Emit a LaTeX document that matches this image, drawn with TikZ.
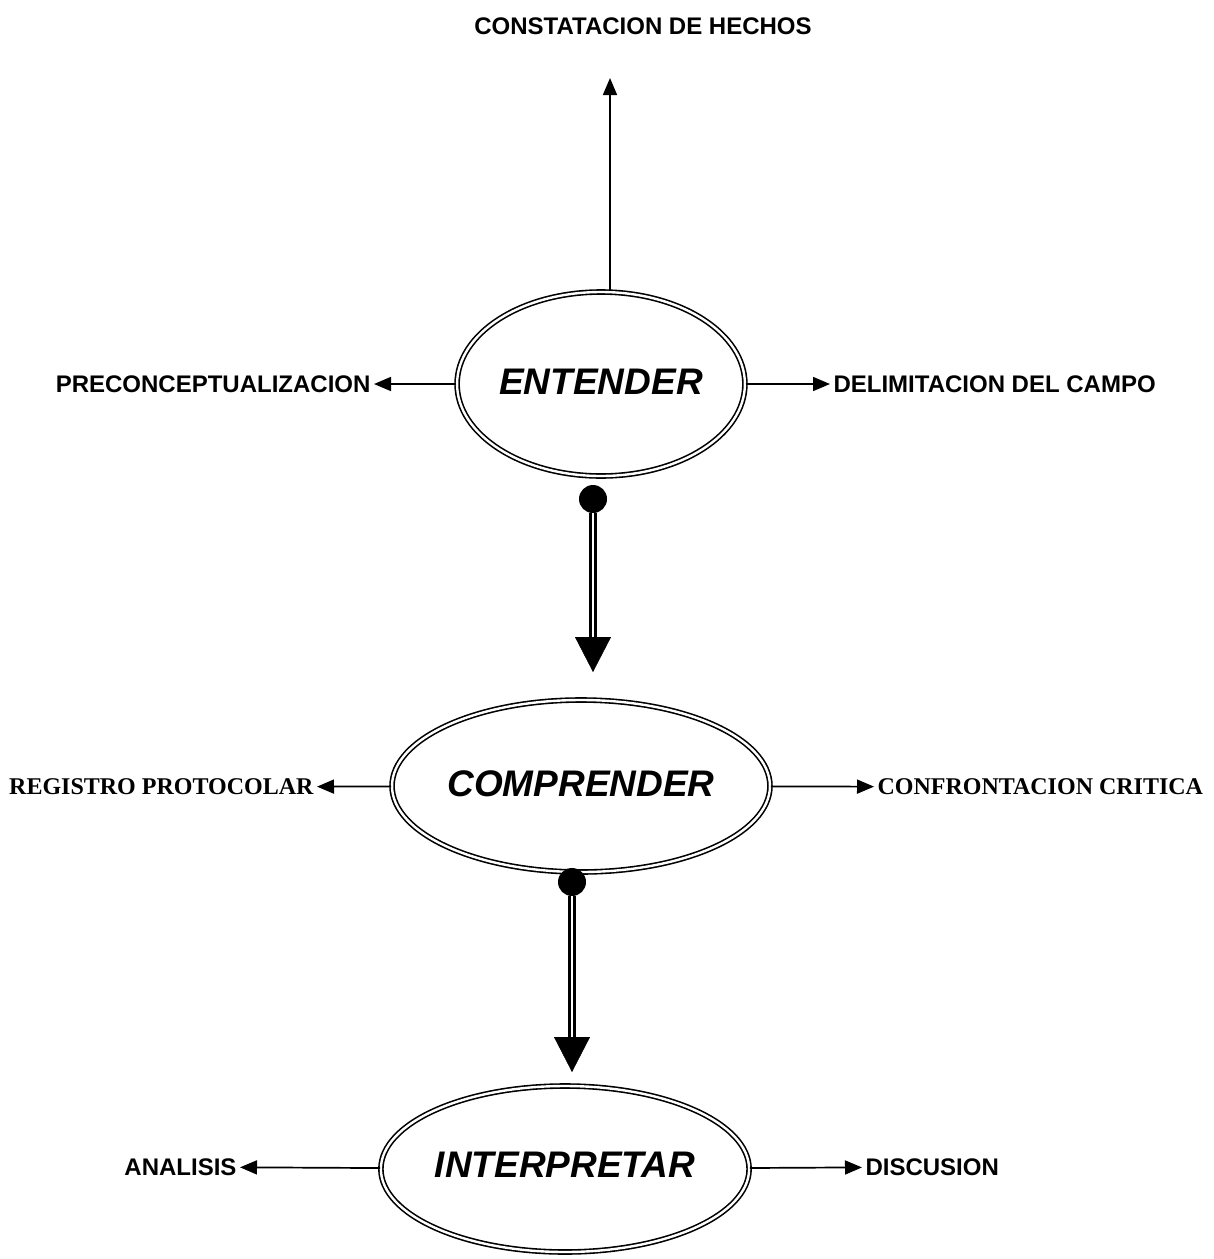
\documentclass[tikz,border=0pt]{standalone}
\usepackage{fontspec}
\setmainfont{Liberation Serif}
\setsansfont{Liberation Sans}
\usetikzlibrary{arrows.meta, shapes.geometric, positioning, calc}

\tikzset{
  etapa/.style={ellipse, draw, double, double distance=2.4pt, line width=1.6pt,
    inner sep=0pt, font=\sffamily\bfseries\itshape\fontsize{37}{40}\selectfont},
  lbl/.style={font=\sffamily\bfseries\fontsize{24}{26}\selectfont},
  lblserif/.style={font=\rmfamily\bfseries\fontsize{24}{26}\selectfont},
  flecha/.style={line width=1.7pt, -{Triangle[length=17pt,width=14pt]}},
  punto/.style={circle, fill, inner sep=0pt, minimum size=28pt},
  doble/.style={double, double distance=2pt, line width=2.6pt},
  puntabig/.style={-{Triangle[length=35pt,width=36pt]}}
}

\begin{document}
\begin{tikzpicture}[x=1pt, y=-1pt]
  \fill[white] (0,0) rectangle (1214,1259);
  \useasboundingbox (0,0) rectangle (1214,1259);

  % etapas
  \node[etapa, minimum width=284pt, minimum height=184pt] (entender) at (601,384) {\raisebox{5pt}{ENTENDER}};
  \node[etapa, minimum width=358pt, minimum height=172pt] (comprender) at (581,786) {\raisebox{4pt}{COMPRENDER}};
  \node[etapa, minimum width=362pt, minimum height=166pt] (interpretar) at (565,1169) {\raisebox{8pt}{INTERPRETAR}};

  % ENTENDER
  \node[lbl] (hechos) at (643,26) {CONSTATACION DE HECHOS};
  \coordinate (hechosTip) at (610,78);
  \draw[flecha] (entender.north -| hechosTip) -- (hechosTip);
  \node[lbl, anchor=east] (precon) at (374,384) {PRECONCEPTUALIZACION};
  \draw[flecha] (entender) -- (precon);
  \node[lbl, anchor=west] (campo) at (830,384) {DELIMITACION DEL CAMPO};
  \draw[flecha] (entender) -- (campo);

  % ENTENDER -> COMPRENDER
  \node[punto] (dot1) at (593,499) {};
  \coordinate (tip1) at (593,672);
  \draw[doble, shorten >=33pt] (dot1) -- (tip1);
  \draw[puntabig] ([yshift=1pt]tip1) -- (tip1);

  % COMPRENDER
  \node[lblserif, anchor=east] (registro) at (317,787) {REGISTRO PROTOCOLAR};
  \draw[flecha] (comprender) -- (registro);
  \node[lblserif, anchor=west] (critica) at (874,787) {CONFRONTACION CRITICA};
  \draw[flecha] (comprender) -- (critica);

  % COMPRENDER -> INTERPRETAR
  \node[punto] (dot2) at (572,882) {};
  \coordinate (tip2) at (572,1072);
  \draw[doble, shorten >=33pt] (dot2) -- (tip2);
  \draw[puntabig] ([yshift=1pt]tip2) -- (tip2);

  % INTERPRETAR
  \node[lbl, anchor=east] (analisis) at (240,1167) {ANALISIS};
  \draw[flecha] (interpretar) -- (analisis);
  \node[lbl, anchor=west] (discusion) at (862,1167) {DISCUSION};
  \draw[flecha] (interpretar) -- (discusion);
\end{tikzpicture}
\end{document}
